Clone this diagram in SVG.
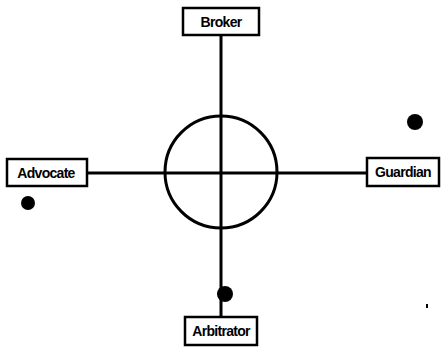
<svg xmlns="http://www.w3.org/2000/svg" width="441" height="352" viewBox="0 0 441 352">
  <style>
    .box { fill: #fff; stroke: #000; stroke-width: 2.5; }
    .lbl { font-family: "Liberation Sans", Arial, sans-serif; font-weight: bold; font-size: 14px; text-anchor: middle; fill: #000; letter-spacing: -0.7px; }
    .wire { stroke: #000; stroke-width: 3; fill: none; }
    .dot { fill: #000; }
  </style>
  <rect width="441" height="352" fill="#fff"/>
  <g id="connectors">
    <line class="wire" x1="221" y1="35" x2="221" y2="317"/>
    <line class="wire" x1="87" y1="173" x2="367" y2="173"/>
    <circle class="wire" cx="221" cy="172" r="56" stroke-width="2.5"/>
  </g>
  <g id="broker">
    <rect class="box" x="183" y="8" width="76" height="27"/>
    <text class="lbl" x="221" y="27">Broker</text>
  </g>
  <g id="advocate">
    <rect class="box" x="7" y="159" width="80" height="27"/>
    <text class="lbl" x="46" y="178">Advocate</text>
  </g>
  <g id="guardian">
    <rect class="box" x="367" y="158" width="72" height="28"/>
    <text class="lbl" x="403" y="177">Guardian</text>
  </g>
  <g id="arbitrator">
    <rect class="box" x="185" y="317" width="72" height="28"/>
    <text class="lbl" x="221" y="336">Arbitrator</text>
  </g>
  <g id="markers">
    <circle class="dot" cx="28" cy="203" r="7"/>
    <circle class="dot" cx="415" cy="122" r="8"/>
    <circle class="dot" cx="225" cy="294" r="8"/>
    <rect class="dot" x="426" y="304" width="2" height="4"/>
  </g>
</svg>
